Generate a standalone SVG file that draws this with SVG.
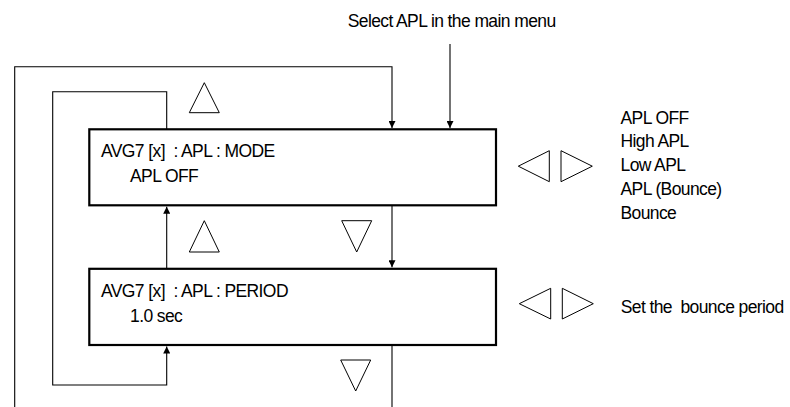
<svg xmlns="http://www.w3.org/2000/svg" width="790" height="407" viewBox="0 0 790 407">
<style>
text{font-family:"Liberation Sans",Arial,sans-serif;font-size:17.5px;fill:#000;letter-spacing:-0.6px;white-space:pre}
.box{fill:#fff;stroke:#000;stroke-width:2.2}
.ln{fill:none;stroke:#000;stroke-width:1.1}
.tri{fill:#fff;stroke:#000;stroke-width:1}
</style>
<defs>
<marker id="ah" viewBox="0 0 10 10" refX="10" refY="5" markerWidth="10" markerHeight="7" markerUnits="userSpaceOnUse" orient="auto">
<path d="M0,0 L10,5 L0,10 Z" fill="#000"/>
</marker>
</defs>
<g id="connectors">
<path class="ln" d="M14.7,407 V66.7 H392 V128" marker-end="url(#ah)"/>
<path class="ln" d="M450,44 V128" marker-end="url(#ah)"/>
<path class="ln" d="M166.7,129 V91.7 H52.7 V385 H166.7 V346.5" marker-end="url(#ah)"/>
<path class="ln" d="M166.7,268.5 V206.7" marker-end="url(#ah)"/>
<path class="ln" d="M392,205.3 V267.2" marker-end="url(#ah)"/>
<path class="ln" d="M392,345 V407"/>
</g>
<g id="label-select">
<text x="347.7" y="26.5">Select APL in the main menu</text>
</g>
<g id="node-mode">
<rect class="box" x="89.3" y="129.3" width="406.7" height="76"/>
<text x="101" y="156.7" xml:space="preserve">AVG7 [x]  : APL : MODE</text>
<text x="130" y="181.7">APL OFF</text>
</g>
<g id="node-period">
<rect class="box" x="89.3" y="268.8" width="406.7" height="76.2"/>
<text x="101" y="297.3" xml:space="preserve">AVG7 [x]  : APL : PERIOD</text>
<text x="130" y="321.7">1.0 sec</text>
</g>
<g id="nav-triangles">
<polygon class="tri" points="189.3,112.7 219.3,112.7 204.3,82.7"/>
<polygon class="tri" points="189.3,252 219.3,252 204.3,220.7"/>
<polygon class="tri" points="341.7,220.7 371.7,220.7 356.7,252"/>
<polygon class="tri" points="340.7,360 370.7,360 355.7,391"/>
<polygon class="tri" points="549.3,150.7 549.3,181.7 518.3,166.2"/>
<polygon class="tri" points="561,150.7 561,181.7 592.3,166.2"/>
<polygon class="tri" points="550.7,288.3 550.7,319 519.3,303.7"/>
<polygon class="tri" points="562.3,288.3 562.3,319 593.3,303.7"/>
</g>
<g id="mode-options">
<text x="620.5" y="123.5">APL OFF</text>
<text x="620.5" y="147">High APL</text>
<text x="620.5" y="171">Low APL</text>
<text x="620.5" y="195">APL (Bounce)</text>
<text x="620.5" y="218.5">Bounce</text>
</g>
<g id="period-option">
<text x="620.7" y="313.3" xml:space="preserve">Set the  bounce period</text>
</g>
</svg>
